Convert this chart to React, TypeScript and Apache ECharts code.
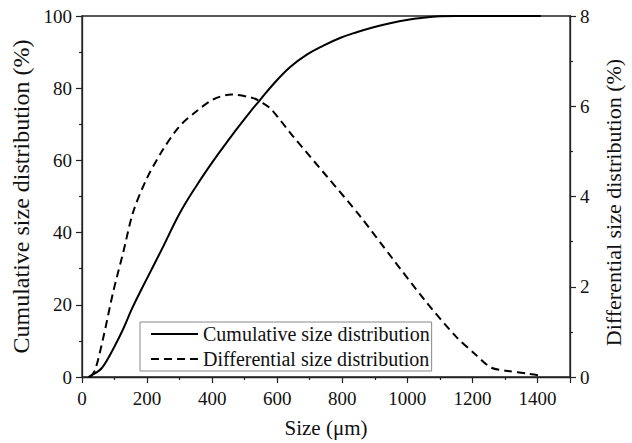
import React, { useEffect, useRef } from "react";
import * as echarts from "echarts";

const cumulativeName = "Cumulative size distribution";
const differentialName = "Differential size distribution";

// [size (µm), cumulative %]
const cumulative: [number, number][] = [
  [20, 0], [31, 0.6], [45, 1.3], [61, 2.5], [76, 4.5], [92, 7.1], [123, 12.6],
  [154, 19], [184, 24.5], [215, 30], [246, 35.5], [300, 45.3], [352, 53],
  [403, 59.8], [454, 66.1], [486, 69.9], [520, 73.8], [547, 76.7], [588, 81.1],
  [639, 85.8], [691, 89.3], [742, 91.8], [793, 93.9], [844, 95.5], [896, 96.9],
  [947, 98], [998, 98.9], [1049, 99.5], [1100, 99.9], [1150, 100], [1410, 100],
];

// [size (µm), differential %]
const differential: [number, number][] = [
  [25, 0], [40, 0.15], [65, 0.86], [96, 1.89], [127, 2.77], [157, 3.65],
  [198, 4.38], [249, 5.04], [300, 5.56], [352, 5.89], [403, 6.15], [459, 6.26],
  [526, 6.18], [556, 6.07], [582, 5.93], [648, 5.34], [751, 4.46], [853, 3.58],
  [955, 2.62], [1057, 1.67], [1149, 0.9], [1211, 0.49], [1257, 0.21],
  [1303, 0.14], [1374, 0.07], [1410, 0.03],
];

const xTitle = "Size (μm)";
const yLeftTitle = "Cumulative size distribution (%)";
const yRightTitle = "Differential size distribution (%)";

const FONT = "'Liberation Serif', 'Times New Roman', serif";
const AXIS_COLOR = "#222";

export default function App() {
  const ref = useRef<HTMLDivElement>(null);
  useEffect(() => {
    const chart = echarts.init(ref.current!, null, { renderer: "svg" });
    const axisLine = { show: true, lineStyle: { color: AXIS_COLOR, width: 1.3 } };
    const axisTick = { show: true, inside: false, length: 6, lineStyle: { color: AXIS_COLOR, width: 1.2 } };
    const minorTick = { show: true, splitNumber: 2, length: 3, lineStyle: { color: AXIS_COLOR, width: 1.2 } };
    const label = {
      color: "#111",
      fontFamily: FONT,
      fontSize: 19,
      formatter: (v: number) => String(v),
    };
    chart.setOption({
      animation: false,
      backgroundColor: "#fff",
      textStyle: { fontFamily: FONT, color: "#111" },
      grid: {
        left: 82, right: 62, top: 16, bottom: 64,
        show: true, borderColor: AXIS_COLOR, borderWidth: 1.3, backgroundColor: "transparent",
      },
      legend: {
        orient: "vertical",
        left: 140,
        top: 322,
        padding: [2, 2, 2, 10],
        itemGap: 5,
        itemWidth: 47,
        itemHeight: 14,
        borderColor: "#888",
        borderWidth: 1,
        backgroundColor: "#fff",
        itemStyle: { opacity: 0 },
        textStyle: { color: "#111", fontFamily: FONT, fontSize: 20 },
        data: [cumulativeName, differentialName],
      },
      xAxis: {
        type: "value",
        min: 0,
        max: 1500,
        interval: 200,
        name: xTitle,
        nameLocation: "middle",
        nameGap: 40,
        nameTextStyle: { color: "#111", fontFamily: FONT, fontSize: 21 },
        axisLine,
        axisTick,
        minorTick,
        splitLine: { show: false },
        axisLabel: { ...label, margin: 12 },
      },
      yAxis: [
        {
          type: "value",
          min: 0,
          max: 100,
          interval: 20,
          position: "left",
          name: yLeftTitle,
          nameLocation: "middle",
          nameGap: 43,
          nameTextStyle: { color: "#111", fontFamily: FONT, fontSize: 24 },
          axisLine,
          axisTick,
          minorTick,
          splitLine: { show: false },
          axisLabel: { ...label, margin: 10 },
        },
        {
          type: "value",
          min: 0,
          max: 8,
          interval: 2,
          position: "right",
          name: yRightTitle,
          nameLocation: "middle",
          nameGap: 32,
          nameTextStyle: {
            color: "#111",
            fontFamily: FONT,
            fontSize: 22,
            padding: [0, 12, 0, 0],
          },
          axisLine,
          axisTick,
          minorTick,
          splitLine: { show: false },
          axisLabel: { ...label, margin: 10 },
        },
      ],
      series: [
        {
          name: cumulativeName,
          type: "line",
          yAxisIndex: 0,
          data: cumulative,
          smooth: 0.4,
          symbol: "none",
          lineStyle: { color: "#000", width: 2, type: "solid" },
          itemStyle: { color: "#000" },
        },
        {
          name: differentialName,
          type: "line",
          yAxisIndex: 1,
          data: differential,
          smooth: 0.3,
          symbol: "none",
          lineStyle: { color: "#000", width: 2, type: [8, 5] },
          itemStyle: { color: "#000" },
        },
      ],
    });
    return () => chart.dispose();
  }, []);
  return (
    <div
      ref={ref}
      style={{ position: "fixed", left: 0, top: 0, width: 632, height: 443 }}
    />
  );
}
